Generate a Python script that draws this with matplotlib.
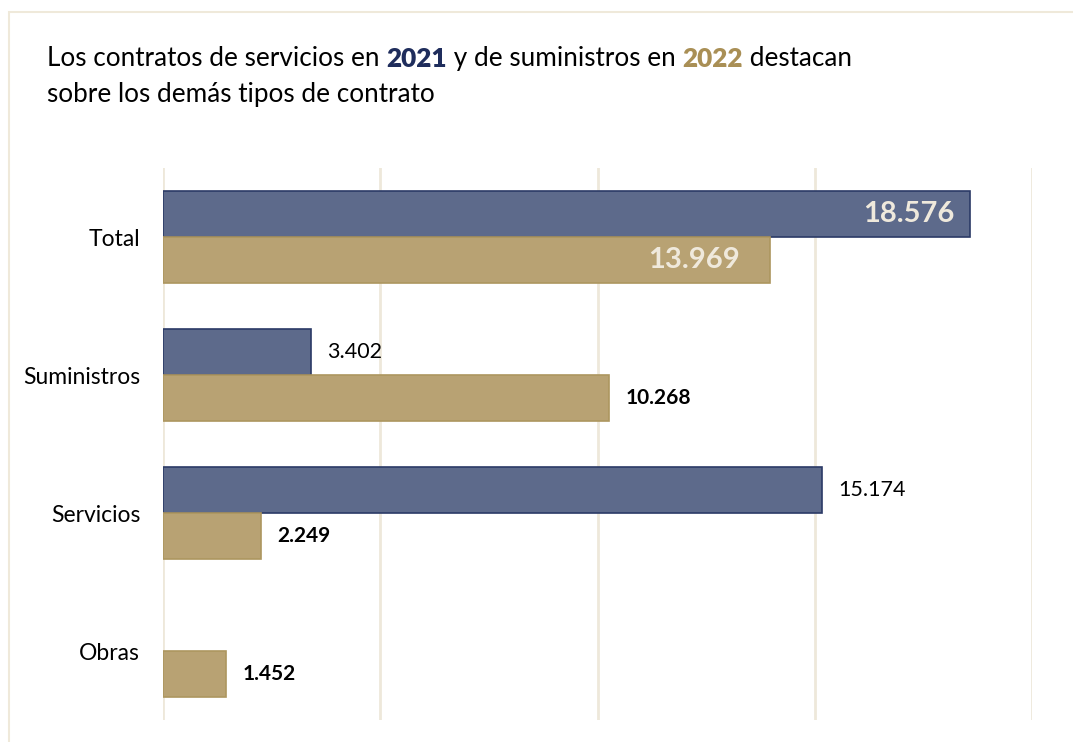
# Contratos 2021 vs 2022 - horizontal grouped bars
import numpy as np
import matplotlib.pyplot as plt
from matplotlib.patches import Rectangle
from matplotlib.text import Annotation

plt.rcParams['font.family'] = ['Lato', 'DejaVu Sans']

# data
categorias = ['Total', 'Suministros', 'Servicios', 'Obras']
valores_2021 = [18576, 3402, 15174, np.nan]
valores_2022 = [13969, 10268, 2249, 1452]

azul = '#5d6a8b'
azul_borde = '#2b3a66'
oro = '#b8a273'
oro_borde = '#ad965f'
grid_col = '#eee8da'

def fmt(v):
    return f'{v:,.0f}'.replace(',', '.')

fig = plt.figure(figsize=(10.73, 7.42), dpi=100)
fig.patches.append(Rectangle((9 / 1073, -0.1), 1.2, 1 - 12 / 742 + 0.1,
                             transform=fig.transFigure, fill=False,
                             edgecolor='#efe9da', linewidth=1.5))

ax = fig.add_axes([163 / 1073, 22 / 742, 869 / 1073, 552 / 742])

y = np.arange(len(categorias))
h = 0.335
ax.barh(y - h / 2, valores_2021, height=h, color=azul, edgecolor=azul_borde,
        linewidth=1.2, zorder=3)
ax.barh(y + h / 2, valores_2022, height=h, color=oro, edgecolor=oro_borde,
        linewidth=1.2, zorder=3)

ax.set_xlim(0, 20000)
ax.set_ylim(3.5, -0.5)
ax.set_xticks([0, 5000, 10000, 15000, 20000])
ax.set_xticklabels([])
ax.xaxis.grid(True, color=grid_col, linewidth=2, zorder=0)
ax.set_yticks(y)
ax.set_yticklabels(categorias, fontsize=16.5)
ax.tick_params(axis='y', length=0, pad=16.5)
ax.tick_params(axis='x', length=0)
for s in ax.spines.values():
    s.set_visible(False)

# labels
for i, (a, b) in enumerate(zip(valores_2021, valores_2022)):
    if i == 0:
        # Total: inside the bars
        ax.text(a - 350, i - h / 2, fmt(a), ha='right', va='center',
                fontsize=21, fontweight='bold', color='#efe9dc', zorder=4)
        ax.text(b - 700, i + h / 2, fmt(b), ha='right', va='center',
                fontsize=21, fontweight='bold', color='#efe9dc', zorder=4)
        continue
    if not np.isnan(a):
        ax.text(a + 370, i - h / 2, fmt(a), ha='left', va='center',
                fontsize=15.5, color='black', zorder=4)
    ax.text(b + 370, i + h / 2, fmt(b), ha='left', va='center',
            fontsize=15, fontweight='bold', color='black', zorder=4)

# title with coloured years
partes = [('Los contratos de servicios en ', 'black', 'normal'),
          ('2021', '#1f2d5c', 'heavy'),
          (' y de suministros en ', 'black', 'normal'),
          ('2022', '#a98f55', 'heavy'),
          (' destacan', 'black', 'normal')]
tsize = 18.8
prev = fig.text(47 / 1073, 1 - 66 / 742, partes[0][0], fontsize=tsize,
                color=partes[0][1], fontweight=partes[0][2], va='baseline')
for txt, col, w in partes[1:]:
    prev = fig.add_artist(Annotation(txt, xy=(1, 0), xycoords=prev,
                                     fontsize=tsize, color=col,
                                     fontweight=w, va='bottom'))
fig.text(47 / 1073, 1 - 102 / 742, 'sobre los demás tipos de contrato',
         fontsize=tsize, color='black', va='baseline')

fig.savefig('out.png', dpi=100)
